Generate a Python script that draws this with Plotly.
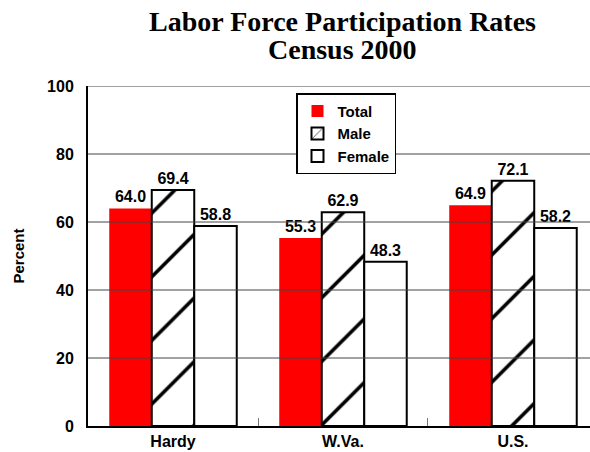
import plotly.graph_objects as go

categories = ["Hardy", "W.Va.", "U.S."]
total = [64.0, 55.3, 64.9]
male = [69.4, 62.9, 72.1]
female = [58.8, 48.3, 58.2]
y_ticks = [0, 20, 40, 60, 80, 100]
title_lines = ["Labor Force Participation Rates", "Census 2000"]

SANS = "Liberation Sans, Arial, sans-serif"
SERIF = "Liberation Serif, Times New Roman, serif"
lab_font = dict(family=SANS, size=16, color="black", weight="bold")

fig = go.Figure()
fig.add_trace(go.Bar(
    name="Total", x=categories, y=total,
    marker=dict(color="#ff0000", line=dict(width=0)),
    text=[f"{v:.1f}" for v in total], textposition="outside",
    textfont=lab_font, cliponaxis=False,
))
fig.add_trace(go.Bar(
    name="Male", x=categories, y=male,
    marker=dict(color="white", line=dict(color="black", width=2),
                pattern=dict(shape="/", size=45, solidity=0.08,
                             fgcolor="black", bgcolor="white", fillmode="replace")),
    text=[f"{v:.1f}" for v in male], textposition="outside",
    textfont=lab_font, cliponaxis=False,
))
fig.add_trace(go.Bar(
    name="Female", x=categories, y=female,
    marker=dict(color="white", line=dict(color="black", width=2)),
    text=[f"{v:.1f}" for v in female], textposition="outside",
    textfont=lab_font, cliponaxis=False,
))

# gridlines drawn above the bars, as in the reference
for v in y_ticks[1:]:
    fig.add_shape(type="line", xref="paper", yref="y", x0=0, x1=1, y0=v, y1=v,
                  line=dict(color="#444444", width=1), layer="above")

# two-line title
for txt, yy in zip(title_lines, [1.19, 1.107]):
    fig.add_annotation(text=txt, xref="paper", yref="paper", x=0.506, y=yy,
                       xanchor="center", yanchor="middle", showarrow=False,
                       font=dict(family=SERIF, size=28, color="black", weight="bold"))

fig.update_layout(
    width=590, height=452,
    margin=dict(l=88, r=0, t=86, b=26),
    paper_bgcolor="white", plot_bgcolor="white",
    barmode="group", bargap=0.25, bargroupgap=0,
    showlegend=True,
    legend=dict(x=(296 - 88) / 502, xanchor="left", y=0.979, yanchor="top",
                bgcolor="white", bordercolor="black", borderwidth=1.5,
                font=dict(family=SANS, size=15, color="black", weight="bold"),
                tracegroupgap=0, itemsizing="constant"),
    font=dict(family=SANS, color="black"),
)
fig.update_xaxes(
    range=[-0.5, 2.453], showline=True, linecolor="black", linewidth=2,
    showgrid=False, ticks="inside", tickson="boundaries", ticklen=8,
    tickwidth=1, tickcolor="#777777",
    tickfont=dict(family=SANS, size=16, color="black", weight="bold"),
)
fig.update_yaxes(
    range=[0, 100], tickvals=y_ticks, showline=True, linecolor="black", linewidth=2,
    showgrid=False, zeroline=False, ticks="",
    tickfont=dict(family=SANS, size=16, color="black", weight="bold"),
    ticklabelstandoff=9,
    title=dict(text="Percent", font=dict(family=SANS, size=15, color="black", weight="bold"),
               standoff=19),
)

fig.write_html("out.html", config={"displayModeBar": False},
               post_script="document.body.style.margin='0px';")
